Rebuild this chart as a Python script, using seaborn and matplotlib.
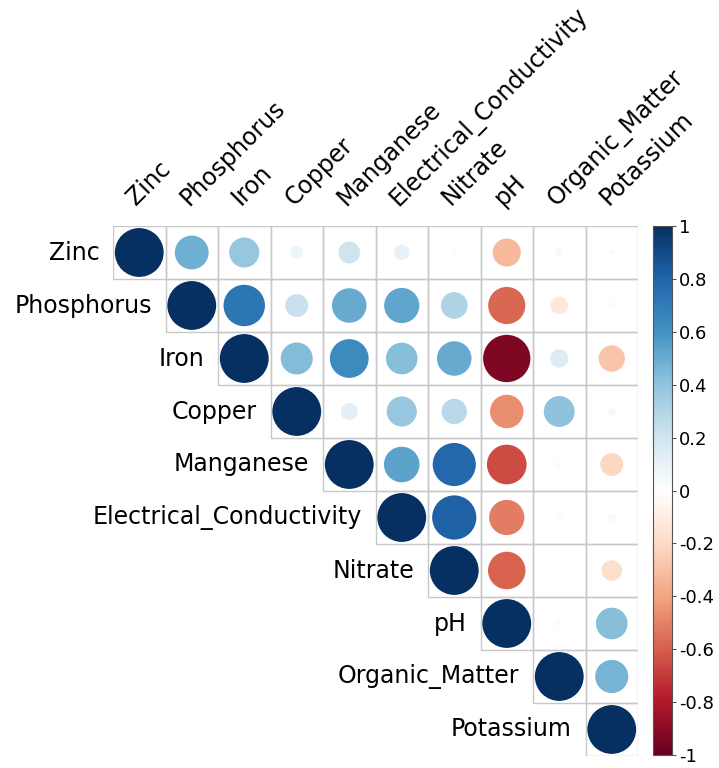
import numpy as np
import pandas as pd
import matplotlib
matplotlib.use("Agg")
import matplotlib.pyplot as plt
from matplotlib.colors import LinearSegmentedColormap, Normalize
from matplotlib.cm import ScalarMappable
from matplotlib.patches import Rectangle
import seaborn as sns

variables = ["Zinc", "Phosphorus", "Iron", "Copper", "Manganese",
             "Electrical_Conductivity", "Nitrate", "pH", "Organic_Matter", "Potassium"]

# Upper-triangle correlations, one list per row starting at the diagonal
r_zinc = [1.00, 0.48, 0.38, 0.07, 0.20, 0.10, 0.02, -0.33, 0.03, 0.02]
r_phosphorus = [1.00, 0.72, 0.22, 0.50, 0.52, 0.30, -0.58, -0.13, 0.02]
r_iron = [1.00, 0.43, 0.63, 0.42, 0.50, -0.94, 0.14, -0.29]
r_copper = [1.00, 0.12, 0.38, 0.27, -0.47, 0.40, 0.03]
r_manganese = [1.00, 0.53, 0.78, -0.66, 0.02, -0.22]
r_ec = [1.00, 0.82, -0.52, 0.02, 0.03]
r_nitrate = [1.00, -0.59, 0.01, -0.18]
r_ph = [1.00, 0.02, 0.42]
r_om = [1.00, 0.46]
r_potassium = [1.00]

upper_rows = [r_zinc, r_phosphorus, r_iron, r_copper, r_manganese,
              r_ec, r_nitrate, r_ph, r_om, r_potassium]

records = []
for i, row in enumerate(upper_rows):
    for k, val in enumerate(row):
        j = i + k
        records.append({"row": i, "col": j, "r": val, "absr": abs(val)})
df = pd.DataFrame(records)

cmap = LinearSegmentedColormap.from_list(
    "corr_rdbu",
    ["#67001F", "#B2182B", "#D6604D", "#F4A582", "#FDDBC7", "#FFFFFF",
     "#D1E5F0", "#92C5DE", "#4393C3", "#2166AC", "#053061"], N=200)

W, H = 719, 768
fig = plt.figure(figsize=(W / 100, H / 100), dpi=100)
ax = fig.add_axes([113 / W, 1 - 756 / H, 525 / W, 530 / H])

n = len(variables)
cell_pt = 52.5 * 0.72
max_area = (cell_pt * 0.93) ** 2

sns.scatterplot(data=df, x="col", y="row", hue="r", palette=cmap, hue_norm=(-1, 1),
                size="absr", sizes=(0, max_area), size_norm=(0, 1),
                linewidth=0, legend=False, ax=ax, zorder=3)

for i in range(n):
    for j in range(i, n):
        ax.add_patch(Rectangle((j - 0.5, i - 0.5), 1, 1, fill=False,
                               edgecolor="#c8c8c8", linewidth=1.0, zorder=1))

ax.set_xlim(-0.5, n - 0.5)
ax.set_ylim(n - 0.5, -0.5)
ax.axis("off")

font = ["DejaVu Sans"]
for i, name in enumerate(variables):
    ax.text(i - 0.76, i, name, ha="right", va="center", fontsize=17,
            family=font, color="black")
    ax.text(i - 0.06, -0.87, name, ha="left", va="baseline", rotation=45,
            rotation_mode="anchor", fontsize=17, family=font, color="black")

cax = fig.add_axes([653 / W, 1 - 755 / H, 19 / W, 529 / H])
sm = ScalarMappable(norm=Normalize(-1, 1), cmap=cmap)
cb = fig.colorbar(sm, cax=cax, ticks=np.round(np.arange(-1, 1.01, 0.2), 1))
cb.ax.set_yticklabels(["-1", "-0.8", "-0.6", "-0.4", "-0.2", "0",
                       "0.2", "0.4", "0.6", "0.8", "1"], family=font, fontsize=13)
cb.ax.tick_params(length=3, width=0.8, color="#555555", pad=2)
cb.outline.set_edgecolor("#555555")
cb.outline.set_linewidth(0.8)

fig.savefig("out.png", dpi=100, facecolor="white")
